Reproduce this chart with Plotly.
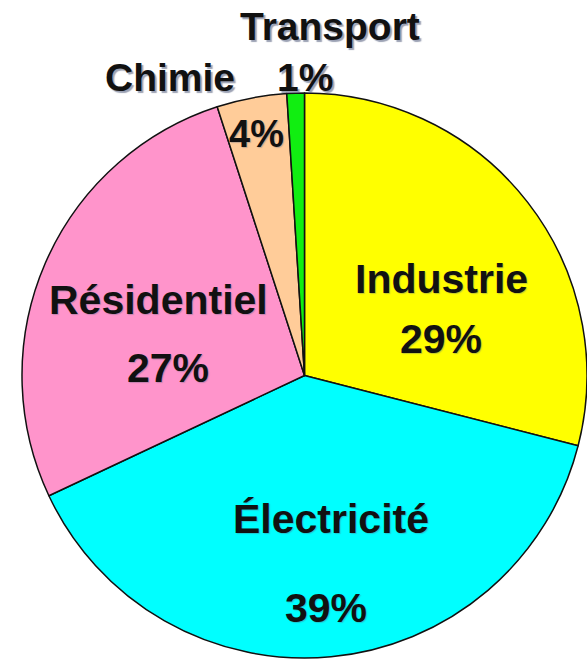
import plotly.graph_objects as go

# Secteurs et parts (%)
secteurs = ["Industrie", "Électricité", "Résidentiel", "Chimie", "Transport"]
parts = [29, 39, 27, 4, 1]
couleurs = ["#FFFF00", "#00FFFF", "#FF94CB", "#FFCC99", "#11EE11"]

W, H = 587, 660

fig = go.Figure(
    go.Pie(
        labels=secteurs,
        values=parts,
        sort=False,
        direction="clockwise",
        rotation=0,
        marker=dict(colors=couleurs, line=dict(color="#111111", width=1.5)),
        textinfo="none",
        hoverinfo="label+percent",
        showlegend=False,
        domain=dict(x=[22 / W, 587 / W], y=[1 - 658 / H, 1 - 93 / H]),
    )
)

police = "Arial, Liberation Sans, sans-serif"
ombre_legere = "1px 1px 1px rgba(90,100,130,0.35)"
ombre_forte = "2px 2px 1px rgba(90,100,130,0.6)"


def txt(texte, px, py, taille, ombre=ombre_legere):
    fig.add_annotation(
        x=px / W, y=1 - py / H, xref="paper", yref="paper",
        text=f"<b>{texte}</b>", showarrow=False,
        xanchor="center", yanchor="middle",
        font=dict(family=police, size=taille, color="#111111", shadow=ombre),
    )


pct = {s: f"{v}%" for s, v in zip(secteurs, parts)}

# Étiquettes à l'intérieur des secteurs
txt(secteurs[0], 441, 279, 41)
txt(pct["Industrie"], 441, 339, 41)
txt(secteurs[1], 331, 519, 41)
txt(pct["Électricité"], 326, 608, 41)
txt(secteurs[2], 158, 300, 41)
txt(pct["Résidentiel"], 168, 368, 41)
txt(pct["Chimie"], 256, 134, 38)

# Étiquettes au-dessus du disque
txt(secteurs[3], 170, 77, 39, ombre_forte)
txt(secteurs[4], 330, 27, 39, ombre_forte)
txt(pct["Transport"], 305, 77, 39, ombre_forte)

fig.update_layout(
    width=W, height=H,
    margin=dict(l=0, r=0, t=0, b=0),
    paper_bgcolor="white", plot_bgcolor="white",
)

fig.write_html("out.html")
